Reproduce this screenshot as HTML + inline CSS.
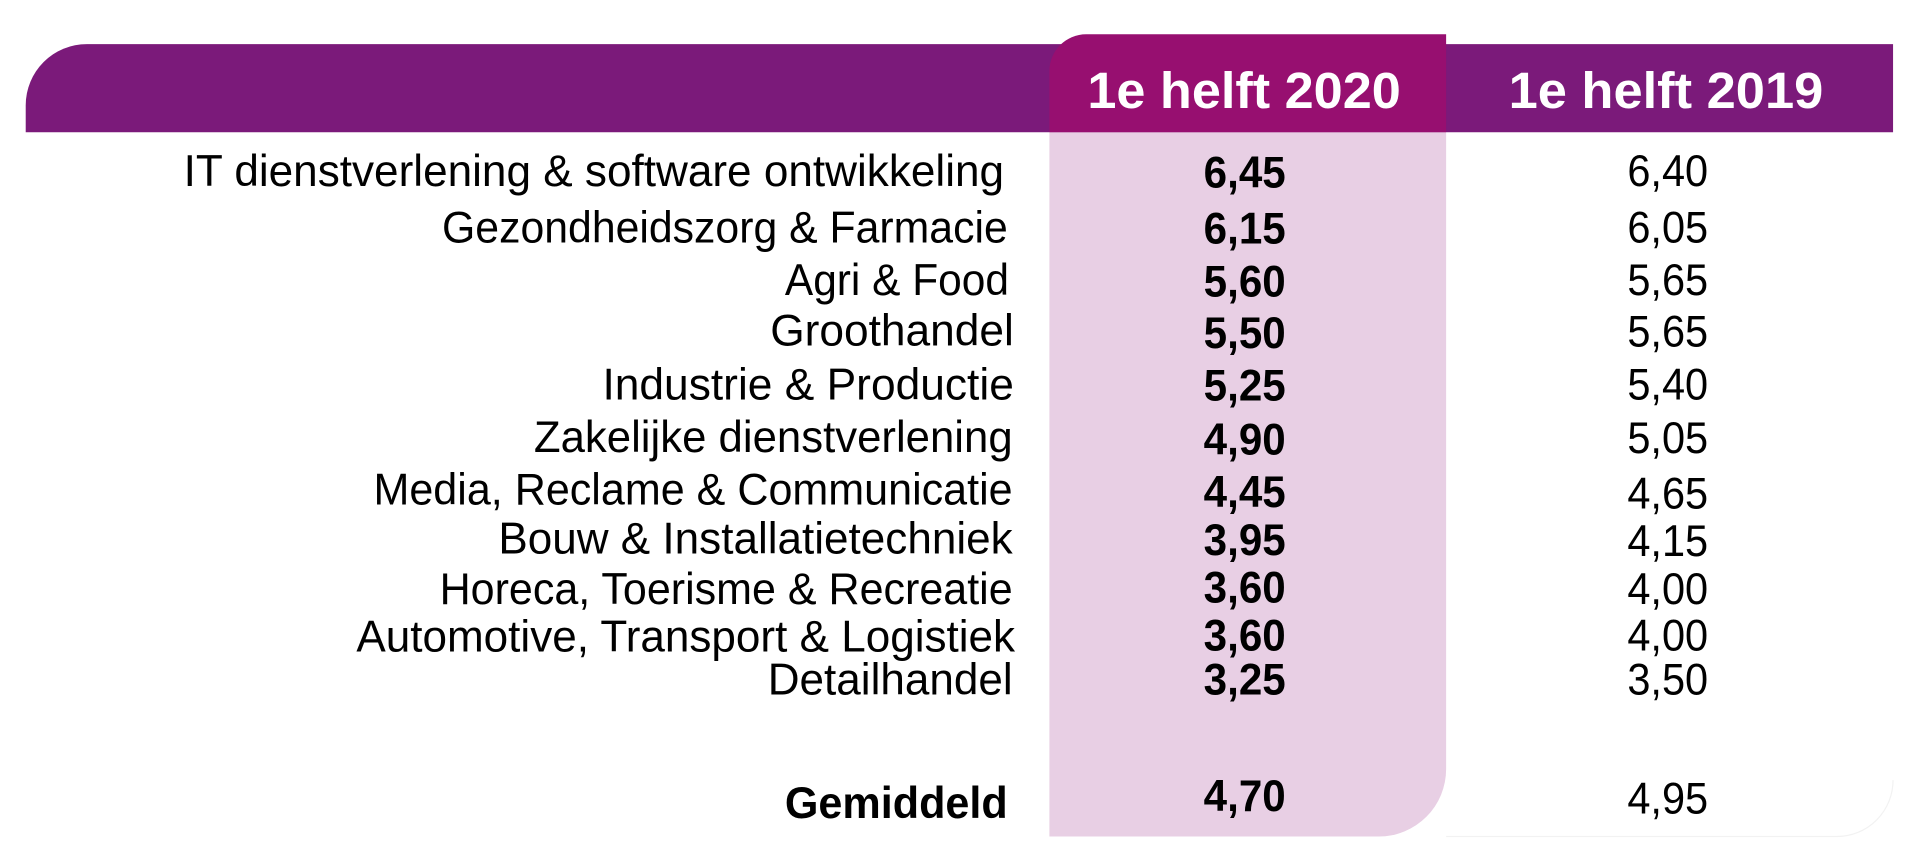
<!DOCTYPE html>
<html><head><meta charset="utf-8"><style>
html,body{margin:0;padding:0;background:#fff;}
svg{display:block;}
text{font-family:"Liberation Sans",sans-serif;fill:#000;}
</style></head><body>
<svg width="1920" height="850" viewBox="0 0 1568 694" preserveAspectRatio="none" xmlns="http://www.w3.org/2000/svg">
<path d="M21,108 V86 A50,50 0 0 1 71,36 H1546 V108 Z" fill="#7b1a7a"/>
<path d="M857,108 H1181 V628 A55,55 0 0 1 1126,683 H857 Z" fill="#e8cfe4"/>
<path d="M857,108 V58 A30,30 0 0 1 887,28 H1181 V108 Z" fill="#970f70"/>
<path d="M1181,683 H1500 A46,46 0 0 0 1546,637" fill="none" stroke="#f2f2f2" stroke-width="1"/>
<g font-weight="bold" font-size="42">
<text x="888" y="88" textLength="256" lengthAdjust="spacingAndGlyphs" style="fill:#fff">1e helft 2020</text>
<text x="1232" y="88" textLength="257" lengthAdjust="spacingAndGlyphs" style="fill:#fff">1e helft 2019</text>
</g>
<g font-size="36">
<text x="150" y="152" textLength="670" lengthAdjust="spacingAndGlyphs">IT dienstverlening &amp; software ontwikkeling</text>
<text x="361" y="198" textLength="462" lengthAdjust="spacingAndGlyphs">Gezondheidszorg &amp; Farmacie</text>
<text x="641" y="241" textLength="183" lengthAdjust="spacingAndGlyphs">Agri &amp; Food</text>
<text x="629" y="282" textLength="199" lengthAdjust="spacingAndGlyphs">Groothandel</text>
<text x="492" y="326" textLength="336" lengthAdjust="spacingAndGlyphs">Industrie &amp; Productie</text>
<text x="436" y="369" textLength="391" lengthAdjust="spacingAndGlyphs">Zakelijke dienstverlening</text>
<text x="305" y="412" textLength="522" lengthAdjust="spacingAndGlyphs">Media, Reclame &amp; Communicatie</text>
<text x="407" y="452" textLength="420" lengthAdjust="spacingAndGlyphs">Bouw &amp; Installatietechniek</text>
<text x="359" y="493" textLength="468" lengthAdjust="spacingAndGlyphs">Horeca, Toerisme &amp; Recreatie</text>
<text x="291" y="532" textLength="538" lengthAdjust="spacingAndGlyphs">Automotive, Transport &amp; Logistiek</text>
<text x="627" y="567" textLength="200" lengthAdjust="spacingAndGlyphs">Detailhandel</text>
<text x="641" y="668" textLength="182" lengthAdjust="spacingAndGlyphs" font-weight="bold">Gemiddeld</text>
</g>
<g font-size="36" font-weight="bold">
<text x="983" y="153" textLength="67" lengthAdjust="spacingAndGlyphs">6,45</text>
<text x="983" y="199" textLength="67" lengthAdjust="spacingAndGlyphs">6,15</text>
<text x="983" y="242" textLength="67" lengthAdjust="spacingAndGlyphs">5,60</text>
<text x="983" y="284" textLength="67" lengthAdjust="spacingAndGlyphs">5,50</text>
<text x="983" y="327" textLength="67" lengthAdjust="spacingAndGlyphs">5,25</text>
<text x="983" y="371" textLength="67" lengthAdjust="spacingAndGlyphs">4,90</text>
<text x="983" y="414" textLength="67" lengthAdjust="spacingAndGlyphs">4,45</text>
<text x="983" y="453" textLength="67" lengthAdjust="spacingAndGlyphs">3,95</text>
<text x="983" y="492" textLength="67" lengthAdjust="spacingAndGlyphs">3,60</text>
<text x="983" y="531" textLength="67" lengthAdjust="spacingAndGlyphs">3,60</text>
<text x="983" y="567" textLength="67" lengthAdjust="spacingAndGlyphs">3,25</text>
<text x="983" y="662" textLength="67" lengthAdjust="spacingAndGlyphs">4,70</text>
</g>
<g font-size="36">
<text x="1329" y="152" textLength="66" lengthAdjust="spacingAndGlyphs">6,40</text>
<text x="1329" y="198" textLength="66" lengthAdjust="spacingAndGlyphs">6,05</text>
<text x="1329" y="241" textLength="66" lengthAdjust="spacingAndGlyphs">5,65</text>
<text x="1329" y="283" textLength="66" lengthAdjust="spacingAndGlyphs">5,65</text>
<text x="1329" y="326" textLength="66" lengthAdjust="spacingAndGlyphs">5,40</text>
<text x="1329" y="370" textLength="66" lengthAdjust="spacingAndGlyphs">5,05</text>
<text x="1329" y="415" textLength="66" lengthAdjust="spacingAndGlyphs">4,65</text>
<text x="1329" y="454" textLength="66" lengthAdjust="spacingAndGlyphs">4,15</text>
<text x="1329" y="493" textLength="66" lengthAdjust="spacingAndGlyphs">4,00</text>
<text x="1329" y="531" textLength="66" lengthAdjust="spacingAndGlyphs">4,00</text>
<text x="1329" y="567" textLength="66" lengthAdjust="spacingAndGlyphs">3,50</text>
<text x="1329" y="664" textLength="66" lengthAdjust="spacingAndGlyphs">4,95</text>
</g>
</svg>
</body></html>
